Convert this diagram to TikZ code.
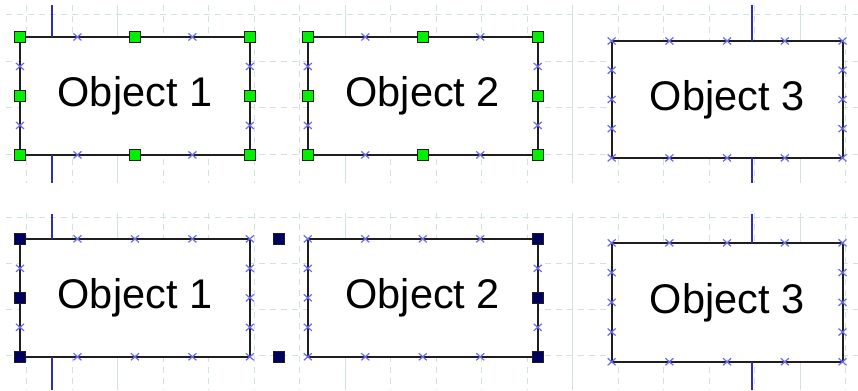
\documentclass[tikz,border=0pt]{standalone}
\usepackage{fontspec}
\setmainfont{Liberation Sans}
\usepackage{xcolor}
\usetikzlibrary{calc,fit,shapes.misc}
\definecolor{gridline}{HTML}{D2E2E2}
\definecolor{wireblue}{HTML}{2E2EB0}
\definecolor{markblue}{HTML}{6A6AF5}
\definecolor{handlegreen}{HTML}{00F000}
\definecolor{handlenavy}{HTML}{000060}
\definecolor{boxline}{HTML}{1E1E1E}

\begin{document}
\begin{tikzpicture}[
    x=1pt, y=-1pt,
    gridminor/.style={draw=gridline, line width=1pt, dash pattern=on 6pt off 5pt},
    gridmajor/.style={draw=gridline, line width=1pt},
    objbox/.style={
      draw=boxline,
      line width=2pt,
      fill=white,
      inner sep=0pt,
      outer sep=0pt,
      minimum width=230pt,
      minimum height=118pt,
      font=\fontsize{41.5}{48}\selectfont
    },
    sizer/.style={draw=boxline, line width=1pt, minimum size=11pt, inner sep=0pt, outer sep=0pt},
    selhandle/.style={sizer, fill=handlegreen},
    grphandle/.style={sizer, fill=handlenavy},
    port/.style={cross out, draw=markblue, line width=1.2pt, minimum width=8pt, minimum height=7pt, inner sep=0pt, outer sep=0pt},
    wire/.style={draw=wireblue, line width=2pt}
  ]
  \fill[white] (0,0) rectangle (858,390);

  % background grid, both panels
  \foreach \gx in {27,72.5,163.5,209,254.5,300,391,436.5,482,527.5,618.5,664,709.5,755,846} {
    \draw[gridminor] (\gx,5) -- (\gx,183);
    \draw[gridminor] (\gx,213) -- (\gx,390);
  }
  \foreach \gx in {118,345.5,573,800.5} {
    \draw[gridmajor] (\gx,5) -- (\gx,183);
    \draw[gridmajor] (\gx,213) -- (\gx,390);
  }
  \foreach \gy in {15,61.5,108,154.5,218,264,310,356}
    \draw[gridminor] (6,\gy) -- (858,\gy);

  % objects
  \node[objbox] (objA) at (135,96) {Object 1};
  \node[objbox] (objB) at (423,96) {Object 2};
  \node[objbox, minimum width=231pt, minimum height=117pt] (objC) at (727.5,99.5) {Object 3};
  \node[objbox] (grpA) at (135,298) {Object 1};
  \node[objbox] (grpB) at (423,298) {Object 2};
  \node[objbox, minimum width=231pt, minimum height=119pt] (grpC) at (727.5,302.5) {Object 3};

  % wires
  \coordinate (wireAn) at (52.5,5);
  \coordinate (wireAs) at (52.5,183);
  \coordinate (wireCn) at (752.5,5);
  \coordinate (wireCs) at (752.5,183);
  \coordinate (wireDn) at (52.5,214);
  \coordinate (wireDs) at (52.5,390);
  \coordinate (wireFn) at (752.5,214);
  \coordinate (wireFs) at (752.5,390);
  \draw[wire] (wireAn) -- (wireAn |- objA.north);
  \draw[wire] (wireAs) -- (wireAs |- objA.south);
  \draw[wire] (wireCn) -- (wireCn |- objC.north);
  \draw[wire] (wireCs) -- (wireCs |- objC.south);
  \draw[wire] (wireDn) -- (wireDn |- grpA.north);
  \draw[wire] (wireDs) -- (wireDs |- grpA.south);
  \draw[wire] (wireFn) -- (wireFn |- grpC.north);
  \draw[wire] (wireFs) -- (wireFs |- grpC.south);

  % connection points
  \foreach \o in {objA,objB} {
    \foreach \t/\i in {0.25/1,0.75/3} {
      \node[port] (\o-n\i) at ($(\o.north west)!\t!(\o.north east)$) {};
      \node[port] (\o-s\i) at ($(\o.south west)!\t!(\o.south east)$) {};
      \node[port] (\o-w\i) at ($(\o.north west)!\t!(\o.south west)$) {};
      \node[port] (\o-e\i) at ($(\o.north east)!\t!(\o.south east)$) {};
    }
  }
  \foreach \o in {objC,grpC} {
    \foreach \t/\i in {0/0,0.25/1,0.5/2,0.75/3,1/4} {
      \node[port] (\o-n\i) at ($(\o.north west)!\t!(\o.north east)$) {};
      \node[port] (\o-s\i) at ($(\o.south west)!\t!(\o.south east)$) {};
    }
    \foreach \t/\i in {0.25/1,0.5/2,0.75/3} {
      \node[port] (\o-w\i) at ($(\o.north west)!\t!(\o.south west)$) {};
      \node[port] (\o-e\i) at ($(\o.north east)!\t!(\o.south east)$) {};
    }
  }
  \foreach \t/\i in {0.25/1,0.5/2,0.75/3,1/4} {
    \node[port] (grpA-n\i) at ($(grpA.north west)!\t!(grpA.north east)$) {};
    \node[port] (grpA-s\i) at ($(grpA.south west)!\t!(grpA.south east)$) {};
  }
  \foreach \t/\i in {0/0,0.25/1,0.5/2,0.75/3} {
    \node[port] (grpB-n\i) at ($(grpB.north west)!\t!(grpB.north east)$) {};
    \node[port] (grpB-s\i) at ($(grpB.south west)!\t!(grpB.south east)$) {};
  }
  \foreach \t/\i in {0.25/1,0.5/2,0.75/3} {
    \node[port] (grpA-e\i) at ($(grpA.north east)!\t!(grpA.south east)$) {};
    \node[port] (grpB-w\i) at ($(grpB.north west)!\t!(grpB.south west)$) {};
  }
  \foreach \t/\i in {0.25/1,0.75/3} {
    \node[port] (grpA-w\i) at ($(grpA.north west)!\t!(grpA.south west)$) {};
    \node[port] (grpB-e\i) at ($(grpB.north east)!\t!(grpB.south east)$) {};
  }

  % selection handles
  \foreach \o in {objA,objB} {
    \foreach \a/\i in {north west/1,north/2,north east/3,east/4,south east/5,south/6,south west/7,west/8}
      \node[selhandle] (\o-h\i) at (\o.\a) {};
  }
  \node[fit=(grpA)(grpB), inner sep=0pt, outer sep=0pt] (grpsel) {};
  \foreach \a/\i in {north west/1,north/2,north east/3,east/4,south east/5,south/6,south west/7,west/8}
    \node[grphandle] (grpsel-h\i) at (grpsel.\a) {};
\end{tikzpicture}
\end{document}
